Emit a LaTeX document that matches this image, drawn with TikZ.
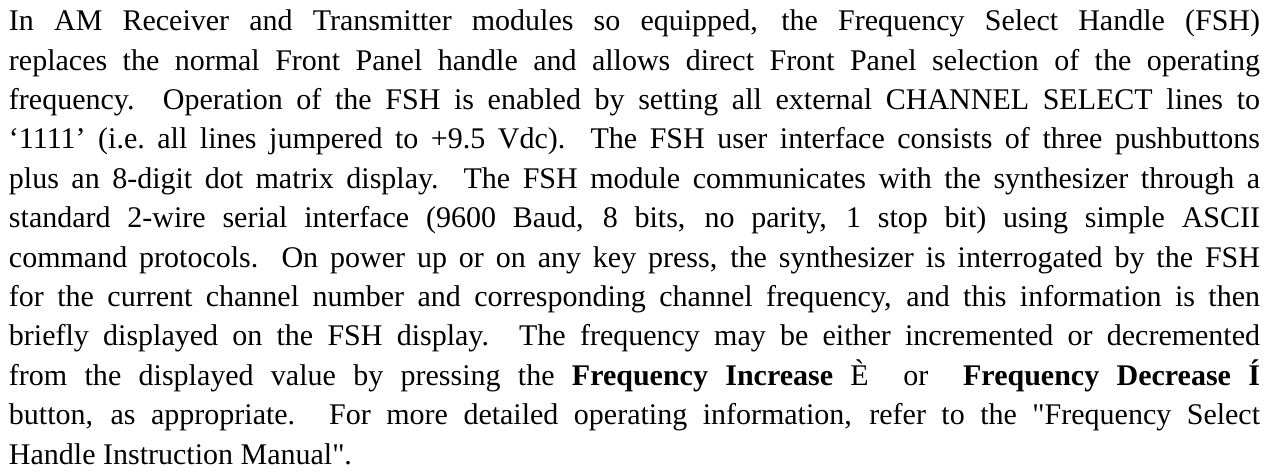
\documentclass[tikz,border=0pt]{standalone}
\usepackage{fontspec}
\setmainfont{Liberation Serif}[Ligatures=TeXOff]
\tikzset{bodytext/.style={anchor=base west, inner sep=0pt, outer sep=0pt, font=\fontsize{15pt}{19.7pt}\selectfont}}
\begin{document}
\begin{tikzpicture}[x=1pt,y=1pt]
\useasboundingbox (0,0) rectangle (639.5,-236.5);
\fill[white] (0,0) rectangle (639.5,-236.5);
\node[bodytext] (para) at (4.5,-15.3) {\parbox[t]{625.5pt}{\fontsize{15pt}{19.7pt}\selectfont\tolerance=10000\emergencystretch=20pt\hyphenpenalty=10000
In AM Receiver and Transmitter modules so equipped, the Frequency Select Handle (FSH)\linebreak
replaces the normal Front Panel handle and allows direct Front Panel selection of the operating\linebreak
frequency. Operation of the FSH is enabled by setting all external CHANNEL SELECT lines to\linebreak
‘1111’ (i.e.\ all lines jumpered to +9.5 Vdc). The FSH user interface consists of three pushbuttons\linebreak
plus an 8-digit dot matrix display. The FSH module communicates with the synthesizer through a\linebreak
standard 2-wire serial interface (9600 Baud, 8 bits, no parity, 1 stop bit) using simple ASCII\linebreak
command protocols. On power up or on any key press, the synthesizer is interrogated by the FSH\linebreak
for the current channel number and corresponding channel frequency, and this information is then\linebreak
briefly displayed on the FSH display. The frequency may be either incremented or decremented\linebreak
from the displayed value by pressing the \textbf{Frequency Increase} È\ \ or\ \ \textbf{Frequency Decrease Í}\linebreak
button, as appropriate. For more detailed operating information, refer to the "Frequency Select\linebreak
Handle Instruction Manual".}};
\end{tikzpicture}
\end{document}
